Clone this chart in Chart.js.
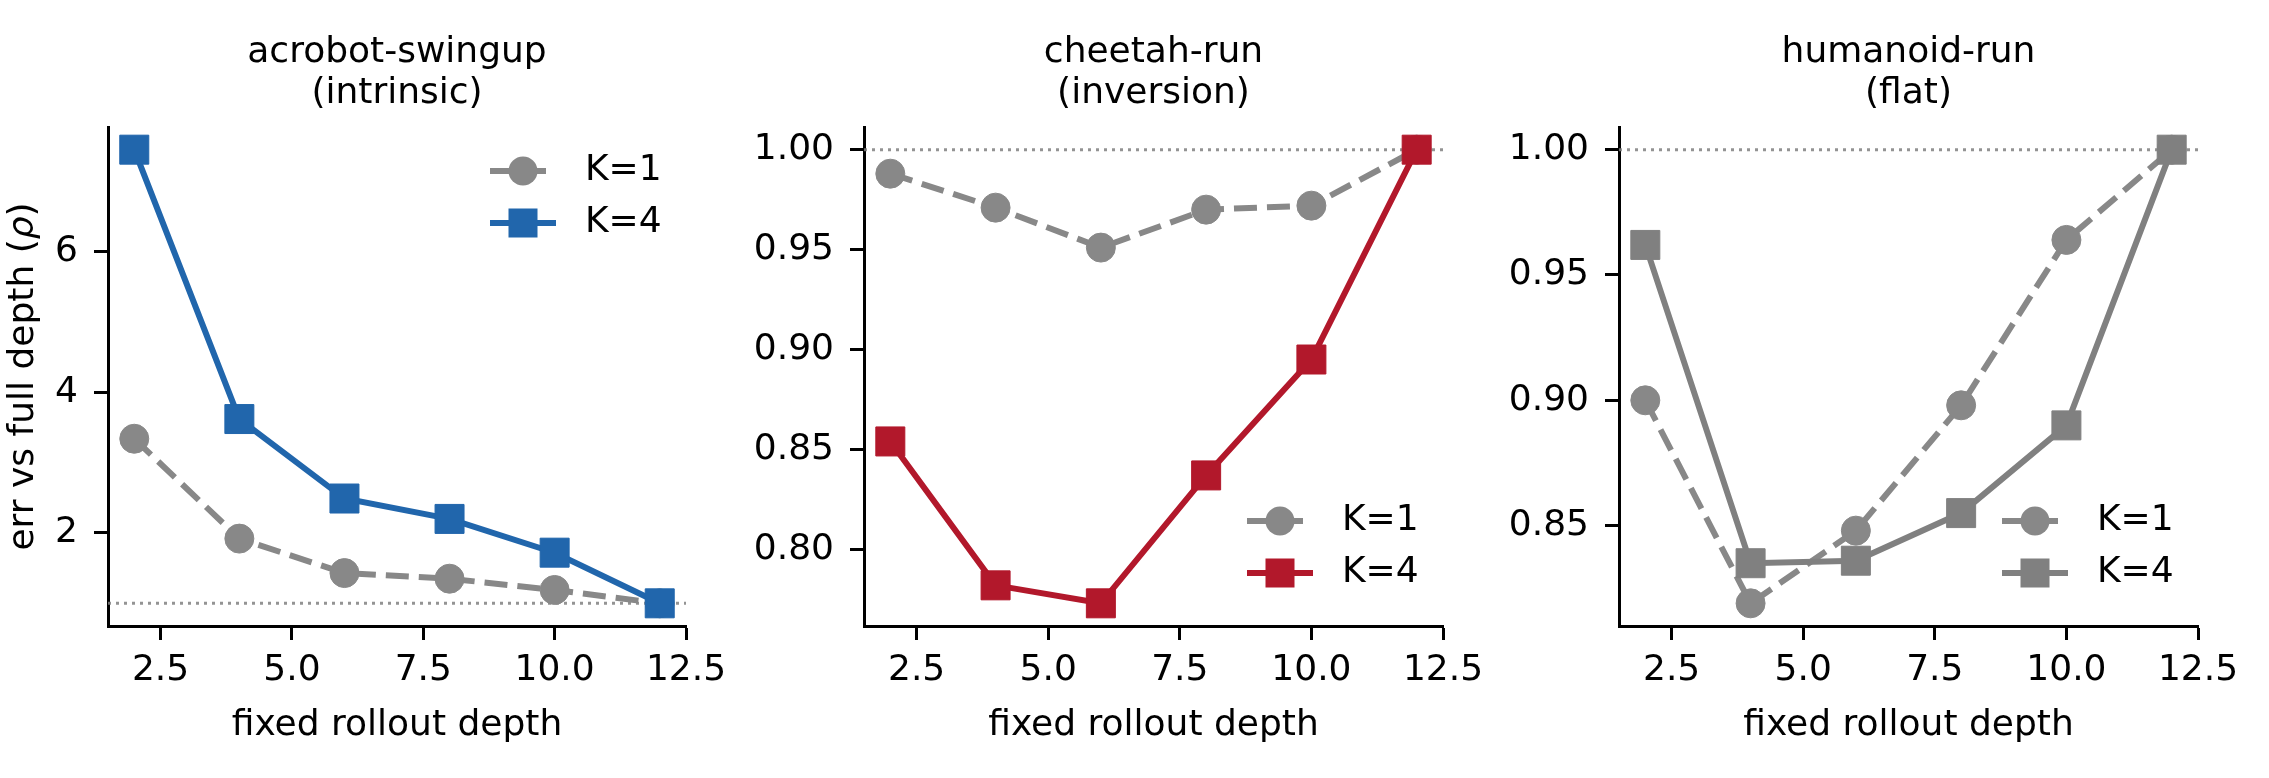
<!DOCTYPE html>
<html>
<head>
<meta charset="utf-8">
<script src="https://cdn.jsdelivr.net/npm/chart.js@4.4.0/dist/chart.umd.min.js"></script>
<style>
  html, body { margin: 0; padding: 0; background: #fff; }
  #wrap { position: relative; width: 2269px; height: 778px; }
  .box { position: absolute; top: 0; height: 778px; }
</style>
</head>
<body>
<div id="wrap">
  <div class="box" style="left:0px;width:740px"><canvas id="c1"></canvas></div>
  <div class="box" style="left:740px;width:757px"><canvas id="c2"></canvas></div>
  <div class="box" style="left:1497px;width:772px"><canvas id="c3"></canvas></div>
</div>
<script>
// data
const depths = [2, 4, 6, 8, 10, 12];
const xTicks = [2.5, 5.0, 7.5, 10.0, 12.5];

const acroK1 = [3.34, 1.92, 1.43, 1.35, 1.19, 1.00];
const acroK4 = [7.45, 3.62, 2.49, 2.20, 1.72, 1.00];
const cheetahK1 = [0.988, 0.971, 0.951, 0.970, 0.972, 1.000];
const cheetahK4 = [0.854, 0.782, 0.773, 0.837, 0.895, 1.000];
const humanK1 = [0.900, 0.819, 0.848, 0.898, 0.964, 1.000];
const humanK4 = [0.962, 0.835, 0.836, 0.855, 0.890, 1.000];

const acroTicks = [2, 4, 6];
const cheetahTicks = [0.80, 0.85, 0.90, 0.95, 1.00];
const humanTicks = [0.85, 0.90, 0.95, 1.00];

const FONT = "'DejaVu Sans', sans-serif";
const FS = 36;

function pts(vals) {
  return depths.map((d, i) => ({ x: d, y: vals[i] }));
}

// matplotlib style 5% margins
function range(arr) {
  const lo = Math.min(...arr), hi = Math.max(...arr);
  const m = (hi - lo) * 0.05;
  return [lo - m, hi + m];
}

// title, legend and y label drawn by hand
const panelPlugin = {
  id: 'panel',
  afterDraw(chart, args, opts) {
    const ctx = chart.ctx;
    const a = chart.chartArea;
    ctx.save();
    ctx.fillStyle = '#000';
    ctx.font = FS + 'px ' + FONT;
    ctx.textAlign = 'center';
    ctx.textBaseline = 'alphabetic';
    const cx = (a.left + a.right) / 2;
    ctx.fillText(opts.title[0], cx, 62);
    ctx.fillText(opts.title[1], cx, 103);

    if (opts.ylabel) {
      ctx.save();
      ctx.translate(23.5, (a.top + a.bottom) / 2);
      ctx.rotate(-Math.PI / 2);
      ctx.textBaseline = 'middle';
      ctx.textAlign = 'left';
      const p1 = 'err vs full depth (', p2 = '\u03c1', p3 = ')';
      ctx.font = FS + 'px ' + FONT;
      const w1 = ctx.measureText(p1).width, w3 = ctx.measureText(p3).width;
      ctx.font = 'italic ' + FS + 'px ' + FONT;
      const w2 = ctx.measureText(p2).width;
      let x = -(w1 + w2 + w3) / 2;
      ctx.font = FS + 'px ' + FONT;
      ctx.fillText(p1, x, 0);
      ctx.font = 'italic ' + FS + 'px ' + FONT;
      ctx.fillText(p2, x + w1, 0);
      ctx.font = FS + 'px ' + FONT;
      ctx.fillText(p3, x + w1 + w2, 0);
      ctx.restore();
    }

    // legend: K=1 row first, like the original
    const sets = chart.data.datasets.filter(d => d.label).sort((p, q) => p.label < q.label ? -1 : 1);
    const gap = 52;
    const x0 = a.right - 196;
    let y0 = opts.legend === 'upper' ? a.top + 44 : a.bottom - 53 - gap * (sets.length - 1);
    sets.forEach((d, i) => {
      const y = y0 + i * gap;
      ctx.strokeStyle = d.borderColor;
      ctx.lineWidth = d.borderWidth;
      ctx.setLineDash(d.borderDash || []);
      ctx.beginPath();
      ctx.moveTo(x0, y);
      ctx.lineTo(x0 + 66, y);
      ctx.stroke();
      ctx.setLineDash([]);
      ctx.fillStyle = d.backgroundColor;
      if (d.pointStyle === 'rect') {
        ctx.fillRect(x0 + 33 - 14.5, y - 14.5, 29, 29);
      } else {
        ctx.beginPath();
        ctx.arc(x0 + 33, y, 14.5, 0, Math.PI * 2);
        ctx.fill();
      }
      ctx.fillStyle = '#000';
      ctx.font = FS + 'px ' + FONT;
      ctx.textAlign = 'left';
      ctx.textBaseline = 'middle';
      ctx.fillText(d.label, x0 + 95, y);
    });
    ctx.restore();
  }
};

function makeChart(id, k1, k4, c1, c4, yTicks, digits, title, legend, yWidth, padRight, ylabel) {
  const xr = range(depths);
  const yr = range(k1.concat(k4));
  return new Chart(document.getElementById(id), {
    type: 'line',
    data: {
      datasets: [
        {
          label: 'K=4', data: pts(k4), borderColor: c4, backgroundColor: c4,
          borderWidth: 6, pointStyle: 'rect', pointRadius: 20.5,
          pointBorderWidth: 1, pointBorderColor: c4, pointBackgroundColor: c4, tension: 0
        },
        {
          label: 'K=1', data: pts(k1), borderColor: c1, backgroundColor: c1,
          borderWidth: 6, borderDash: [23, 10], pointStyle: 'circle', pointRadius: 14.5,
          pointBorderWidth: 1, pointBorderColor: c1, pointBackgroundColor: c1, tension: 0
        },
        {
          label: '', data: [{ x: xr[0], y: 1 }, { x: xr[1], y: 1 }],
          borderColor: 'rgba(128,128,128,0.85)', borderWidth: 3, borderDash: [3, 5],
          pointRadius: 0
        }
      ]
    },
    options: {
      responsive: true,
      maintainAspectRatio: false,
      animation: false,
      layout: { padding: { top: 127, right: padRight, bottom: 0, left: 0 } },
      plugins: {
        legend: { display: false },
        tooltip: { enabled: false },
        panel: { title: title, legend: legend, ylabel: ylabel }
      },
      scales: {
        x: {
          type: 'linear', min: xr[0], max: xr[1],
          afterBuildTicks: s => { s.ticks = xTicks.map(v => ({ value: v })); },
          afterFit: s => { s.height = 152; },
          grid: { drawOnChartArea: false, drawTicks: true, tickLength: 14, tickWidth: 3, tickColor: '#000' },
          border: { display: true, color: '#000', width: 3 },
          ticks: {
            color: '#000', font: { family: FONT, size: FS }, padding: 9,
            autoSkip: false, maxRotation: 0, callback: v => v.toFixed(1)
          },
          title: {
            display: true, text: 'fixed rollout depth', color: '#000',
            font: { family: FONT, size: FS }, padding: { top: 0, bottom: 31 }
          }
        },
        y: {
          type: 'linear', min: yr[0], max: yr[1],
          afterBuildTicks: s => { s.ticks = yTicks.map(v => ({ value: v })); },
          afterFit: s => { s.width = yWidth; },
          grid: { drawOnChartArea: false, drawTicks: true, tickLength: 14, tickWidth: 3, tickColor: '#000' },
          border: { display: true, color: '#000', width: 3 },
          ticks: {
            color: '#000', font: { family: FONT, size: FS }, padding: 16,
            callback: v => v.toFixed(digits)
          }
        }
      }
    },
    plugins: [panelPlugin]
  });
}

makeChart('c1', acroK1, acroK4, '#888888', '#2166ac', acroTicks, 0,
  ['acrobot-swingup', '(intrinsic)'], 'upper', 108, 54, true);
makeChart('c2', cheetahK1, cheetahK4, '#888888', '#b2182b', cheetahTicks, 2,
  ['cheetah-run', '(inversion)'], 'lower', 124, 54, false);
makeChart('c3', humanK1, humanK4, '#888888', '#808080', humanTicks, 2,
  ['humanoid-run', '(flat)'], 'lower', 122, 71, false);
</script>
</body>
</html>
